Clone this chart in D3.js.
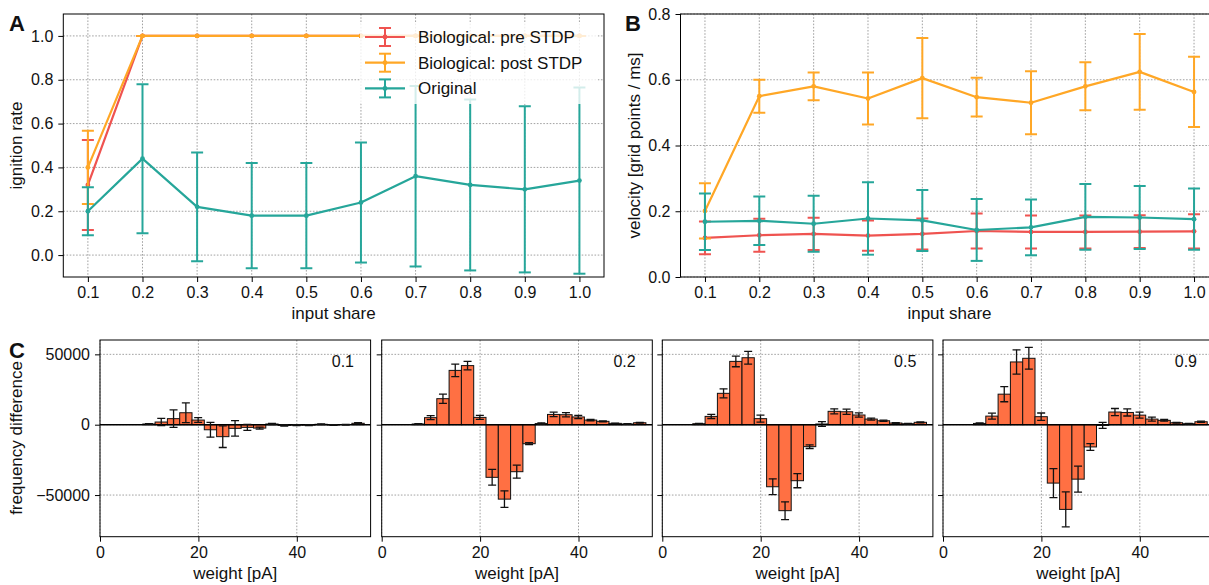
<!DOCTYPE html>
<html>
<head>
<meta charset="utf-8">
<script src="https://cdn.jsdelivr.net/npm/d3@7"></script>
<style>
  body { margin: 0; background: #fff; }
  svg { display: block; font-family: "Liberation Sans", Arial, sans-serif; }
</style>
</head>
<body>
<svg id="fig" width="1209" height="585"></svg>
<script>
// ---- Panel A / B: x categories ----
const inputShare = [0.1, 0.2, 0.3, 0.4, 0.5, 0.6, 0.7, 0.8, 0.9, 1.0];

// Panel A: ignition rate (mean, std)
const ignitionPre      = [0.32, 1, 1, 1, 1, 1, 1, 1, 1, 1];
const ignitionPreErr   = [0.205, 0, 0, 0, 0, 0, 0, 0, 0, 0];
const ignitionPost     = [0.40, 1, 1, 1, 1, 1, 1, 1, 1, 1];
const ignitionPostErr  = [0.167, 0, 0, 0, 0, 0, 0, 0, 0, 0];
const ignitionOrig     = [0.20, 0.44, 0.22, 0.18, 0.18, 0.24, 0.36, 0.32, 0.30, 0.34];
const ignitionOrigErr  = [0.11, 0.34, 0.248, 0.24, 0.24, 0.274, 0.412, 0.39, 0.379, 0.425];

// Panel B: velocity [grid points / ms] (mean, std)
const velPre      = [0.119, 0.127, 0.131, 0.126, 0.131, 0.140, 0.137, 0.137, 0.138, 0.139];
const velPreErr   = [0.050, 0.050, 0.049, 0.046, 0.047, 0.053, 0.050, 0.050, 0.050, 0.052];
const velPost     = [0.201, 0.550, 0.580, 0.543, 0.605, 0.547, 0.530, 0.580, 0.624, 0.563];
const velPostErr  = [0.084, 0.050, 0.042, 0.079, 0.122, 0.059, 0.096, 0.073, 0.115, 0.107];
const velOrig     = [0.168, 0.171, 0.162, 0.178, 0.172, 0.143, 0.151, 0.183, 0.181, 0.176];
const velOrigErr  = [0.086, 0.074, 0.085, 0.110, 0.093, 0.094, 0.085, 0.100, 0.096, 0.093];

const seriesNames = ["Biological: pre STDP", "Biological: post STDP", "Original"];
const seriesColors = ["#EF5350", "#FFA726", "#26A69A"];

const ignitionTicks = [0.0, 0.2, 0.4, 0.6, 0.8, 1.0];
const velocityTicks = [0.0, 0.2, 0.4, 0.6, 0.8];

// ---- Panel C: weight histogram differences (post - pre) ----
const weightBins = [2.45, 4.95, 7.45, 9.95, 12.45, 14.95, 17.45, 19.95, 22.45, 24.95,
                    27.45, 29.95, 32.45, 34.95, 37.45, 39.95, 42.45, 44.95, 47.45, 49.95, 52.45];
const binWidth = 2.5;
const histShares = ["0.1", "0.2", "0.5", "0.9"];
const diff01 = [0, 0, 0, 500, 1900, 4300, 8500, 3300, -3600, -8500, -2600, -1900, -2400, 500, -500, -300, -300, 300, -200, 0, 1000];
const err01  = [0, 0, 0, 300, 2600, 6200, 7000, 1700, 5300, 7700, 5500, 2100, 700, 500, 500, 400, 300, 300, 200, 200, 400];
const diff02 = [0, 0, 500, 5000, 18500, 38600, 42000, 5200, -37400, -52900, -33400, -13500, 800, 7300, 7100, 5500, 3300, 2400, 950, 500, 1400];
const err02  = [0, 0, 200, 1400, 3300, 4500, 3000, 1400, 5600, 5900, 4600, 700, 500, 1600, 1500, 1200, 500, 300, 200, 200, 300];
const diff05 = [0, 0, 700, 5900, 22300, 45000, 47600, 4300, -44100, -61100, -39800, -15600, 500, 9500, 9200, 6900, 4000, 2800, 1200, 700, 1700];
const err05  = [0, 0, 200, 1500, 3200, 3800, 4500, 2500, 5600, 6300, 5000, 1300, 1700, 1800, 1800, 1500, 700, 400, 300, 200, 300];
const diff09 = [0, 0, 900, 6100, 21700, 44600, 47200, 5700, -41500, -60200, -38700, -15800, -500, 9000, 8700, 6800, 4000, 3100, 1400, 700, 2100];
const err09  = [0, 0, 300, 2100, 5400, 8600, 7700, 2600, 10300, 12400, 9200, 2400, 2100, 2500, 2500, 2100, 1400, 600, 300, 200, 400];
const weightTicks = [0, 20, 40];
const diffTicks = [50000, 0, -50000];

// ---- drawing ----
const svg = d3.select("#fig");
const TICK_FONT = 16, LABEL_FONT = 17;
const GRID = { stroke: "#8a8a8a", width: 0.8, dash: "1.6,1.6" };

function styleAxis(g) {
  g.select(".domain").remove();
  g.selectAll(".tick line").attr("stroke", "#000").attr("stroke-width", 1);
  g.selectAll(".tick text").attr("fill", "#111").attr("font-size", TICK_FONT)
    .attr("font-family", '"Liberation Sans", Arial, sans-serif');
}

function drawGrid(g, x, y, xt, yt, box) {
  g.append("g").selectAll("line").data(xt).join("line")
    .attr("x1", d => x(d)).attr("x2", d => x(d))
    .attr("y1", box.top).attr("y2", box.bottom)
    .attr("stroke", GRID.stroke).attr("stroke-width", GRID.width).attr("stroke-dasharray", GRID.dash);
  g.append("g").selectAll("line").data(yt).join("line")
    .attr("x1", box.left).attr("x2", box.right)
    .attr("y1", d => y(d)).attr("y2", d => y(d))
    .attr("stroke", GRID.stroke).attr("stroke-width", GRID.width).attr("stroke-dasharray", GRID.dash);
}

function drawFrame(box) {
  svg.append("rect").attr("x", box.left).attr("y", box.top)
    .attr("width", box.right - box.left).attr("height", box.bottom - box.top)
    .attr("fill", "none").attr("stroke", "#000").attr("stroke-width", 1);
}

let clipCount = 0;
function clipFor(box) {
  const id = "clip" + (clipCount++);
  svg.append("clipPath").attr("id", id).append("rect")
    .attr("x", box.left).attr("y", box.top)
    .attr("width", box.right - box.left).attr("height", box.bottom - box.top);
  return "url(#" + id + ")";
}

function errorSeries(g, x, y, xs, ys, es, color, cap) {
  const s = g.append("g");
  const pts = xs.map((d, i) => ({ x: d, y: ys[i], e: es[i] }));
  s.selectAll("line.bar").data(pts).join("line").attr("class", "bar")
    .attr("x1", d => x(d.x)).attr("x2", d => x(d.x))
    .attr("y1", d => y(d.y - d.e)).attr("y2", d => y(d.y + d.e))
    .attr("stroke", color).attr("stroke-width", 2);
  [-1, 1].forEach(sg => {
    s.selectAll("line.cap" + (sg > 0 ? "p" : "m")).data(pts).join("line")
      .attr("class", "cap" + (sg > 0 ? "p" : "m"))
      .attr("x1", d => x(d.x) - cap / 2).attr("x2", d => x(d.x) + cap / 2)
      .attr("y1", d => y(d.y + sg * d.e)).attr("y2", d => y(d.y + sg * d.e))
      .attr("stroke", color).attr("stroke-width", 2);
  });
  s.append("path").datum(pts)
    .attr("d", d3.line().x(d => x(d.x)).y(d => y(d.y)))
    .attr("fill", "none").attr("stroke", color).attr("stroke-width", 2.2)
    .attr("stroke-linejoin", "round");
  s.selectAll("circle").data(pts).join("circle")
    .attr("cx", d => x(d.x)).attr("cy", d => y(d.y)).attr("r", 2.4)
    .attr("fill", color);
}

function linePanel(box, yDomain, yTicks, series, ylabel, ylabelX, letter, letterX) {
  const x = d3.scaleLinear().domain([0.055, 1.045]).range([box.left, box.right]);
  const y = d3.scaleLinear().domain(yDomain).range([box.bottom, box.top]);
  const g = svg.append("g");
  drawGrid(g, x, y, inputShare, yTicks, box);
  const data = g.append("g").attr("clip-path", clipFor(box));
  series.forEach(s => errorSeries(data, x, y, inputShare, s.v, s.e, s.color, 12));
  g.append("g").attr("transform", `translate(0,${box.bottom})`)
    .call(d3.axisBottom(x).tickValues(inputShare).tickFormat(d3.format(".1f")).tickSize(5).tickPadding(5))
    .call(styleAxis);
  g.append("g").attr("transform", `translate(${box.left},0)`)
    .call(d3.axisLeft(y).tickValues(yTicks).tickFormat(d3.format(".1f")).tickSize(5).tickPadding(5))
    .call(styleAxis);
  svg.append("text").attr("x", (box.left + box.right) / 2).attr("y", box.bottom + 42)
    .attr("text-anchor", "middle").attr("font-size", LABEL_FONT).attr("fill", "#111").text("input share");
  svg.append("text").attr("transform", `translate(${ylabelX},${(box.top + box.bottom) / 2}) rotate(-90)`)
    .attr("text-anchor", "middle").attr("font-size", LABEL_FONT).attr("fill", "#111").text(ylabel);
  svg.append("text").attr("x", letterX).attr("y", 31).attr("font-size", 22)
    .attr("font-weight", "bold").attr("fill", "#111").text(letter);
  return { x, y, g };
}

// Panel A
const boxA = { left: 63.3, right: 604, top: 14, bottom: 277 };
const pa = linePanel(boxA, [-0.1, 1.1], ignitionTicks, [
  { v: ignitionPre,  e: ignitionPreErr,  color: seriesColors[0] },
  { v: ignitionPost, e: ignitionPostErr, color: seriesColors[1] },
  { v: ignitionOrig, e: ignitionOrigErr, color: seriesColors[2] }
], "ignition rate", 22, "A", 9);

// legend of panel A
const leg = svg.append("g");
leg.append("rect").attr("x", 360).attr("y", 22).attr("width", 238).attr("height", 82)
  .attr("rx", 3).attr("fill", "#fff").attr("fill-opacity", 0.8);
seriesNames.forEach((name, i) => {
  const cy = 37 + i * 25.7, cx = 385, c = seriesColors[i];
  const r = leg.append("g");
  r.append("line").attr("x1", 365).attr("x2", 405).attr("y1", cy).attr("y2", cy)
    .attr("stroke", c).attr("stroke-width", 2.2);
  r.append("line").attr("x1", cx).attr("x2", cx).attr("y1", cy - 9).attr("y2", cy + 9)
    .attr("stroke", c).attr("stroke-width", 2);
  [-9, 9].forEach(dy => r.append("line").attr("x1", cx - 6).attr("x2", cx + 6)
    .attr("y1", cy + dy).attr("y2", cy + dy).attr("stroke", c).attr("stroke-width", 2));
  r.append("circle").attr("cx", cx).attr("cy", cy).attr("r", 2.4).attr("fill", c);
  r.append("text").attr("x", 418).attr("y", cy + 6).attr("font-size", LABEL_FONT)
    .attr("fill", "#111").text(name);
});
drawFrame(boxA);

// Panel B
const boxB = { left: 680.5, right: 1218.5, top: 14, bottom: 277 };
linePanel(boxB, [0, 0.8], velocityTicks, [
  { v: velPre,  e: velPreErr,  color: seriesColors[0] },
  { v: velPost, e: velPostErr, color: seriesColors[1] },
  { v: velOrig, e: velOrigErr, color: seriesColors[2] }
], "velocity [grid points / ms]", 640, "B", 625);
drawFrame(boxB);

// Panel C
const histData = [[diff01, err01], [diff02, err02], [diff05, err05], [diff09, err09]];
const cLefts = [100, 381.7, 662.3, 943];
const cWidth = 270.6;
histData.forEach(([vals, errs], k) => {
  const box = { left: cLefts[k], right: cLefts[k] + cWidth, top: 340, bottom: 536.7 };
  const x = d3.scaleLinear().domain([0, 55]).range([box.left, box.right]);
  const y = d3.scaleLinear().domain([-79600, 60200]).range([box.bottom, box.top]);
  const g = svg.append("g");
  drawGrid(g, x, y, weightTicks, diffTicks, box);
  const data = g.append("g").attr("clip-path", clipFor(box));
  const pts = weightBins.map((c, i) => ({ c, v: vals[i], e: errs[i] }));
  data.selectAll("rect").data(pts).join("rect")
    .attr("x", d => x(d.c - binWidth / 2)).attr("width", d => x(d.c + binWidth / 2) - x(d.c - binWidth / 2))
    .attr("y", d => Math.min(y(d.v), y(0))).attr("height", d => Math.abs(y(d.v) - y(0)))
    .attr("fill", "#FF7043").attr("stroke", "#111").attr("stroke-width", 1);
  data.append("line").attr("x1", box.left).attr("x2", box.right).attr("y1", y(0)).attr("y2", y(0))
    .attr("stroke", "#000").attr("stroke-width", 1.5);
  const eb = data.append("g").attr("stroke", "#111").attr("stroke-width", 1.3);
  eb.selectAll("line.v").data(pts.filter(d => d.e > 0)).join("line").attr("class", "v")
    .attr("x1", d => x(d.c)).attr("x2", d => x(d.c)).attr("y1", d => y(d.v - d.e)).attr("y2", d => y(d.v + d.e));
  [-1, 1].forEach(sg => eb.selectAll("line.c" + sg).data(pts.filter(d => d.e > 0)).join("line")
    .attr("class", "c" + sg)
    .attr("x1", d => x(d.c) - 4).attr("x2", d => x(d.c) + 4)
    .attr("y1", d => y(d.v + sg * d.e)).attr("y2", d => y(d.v + sg * d.e)));
  g.append("g").attr("transform", `translate(0,${box.bottom})`)
    .call(d3.axisBottom(x).tickValues(weightTicks).tickFormat(d3.format("d")).tickSize(5).tickPadding(5))
    .call(styleAxis);
  const ya = g.append("g").attr("transform", `translate(${box.left},0)`)
    .call(d3.axisLeft(y).tickValues(diffTicks).tickFormat(k === 0 ? d3.format("d") : () => "").tickSize(5).tickPadding(5))
    .call(styleAxis);
  svg.append("text").attr("x", (box.left + box.right) / 2).attr("y", 579)
    .attr("text-anchor", "middle").attr("font-size", LABEL_FONT).attr("fill", "#111").text("weight [pA]");
  svg.append("text").attr("x", box.left + 254).attr("y", 367).attr("text-anchor", "end")
    .attr("font-size", TICK_FONT).attr("fill", "#111").text(histShares[k]);
  drawFrame(box);
});
svg.append("text").attr("transform", `translate(22,438) rotate(-90)`)
  .attr("text-anchor", "middle").attr("font-size", LABEL_FONT).attr("fill", "#111").text("frequency difference");
svg.append("text").attr("x", 9).attr("y", 358).attr("font-size", 22)
  .attr("font-weight", "bold").attr("fill", "#111").text("C");
</script>
</body>
</html>
